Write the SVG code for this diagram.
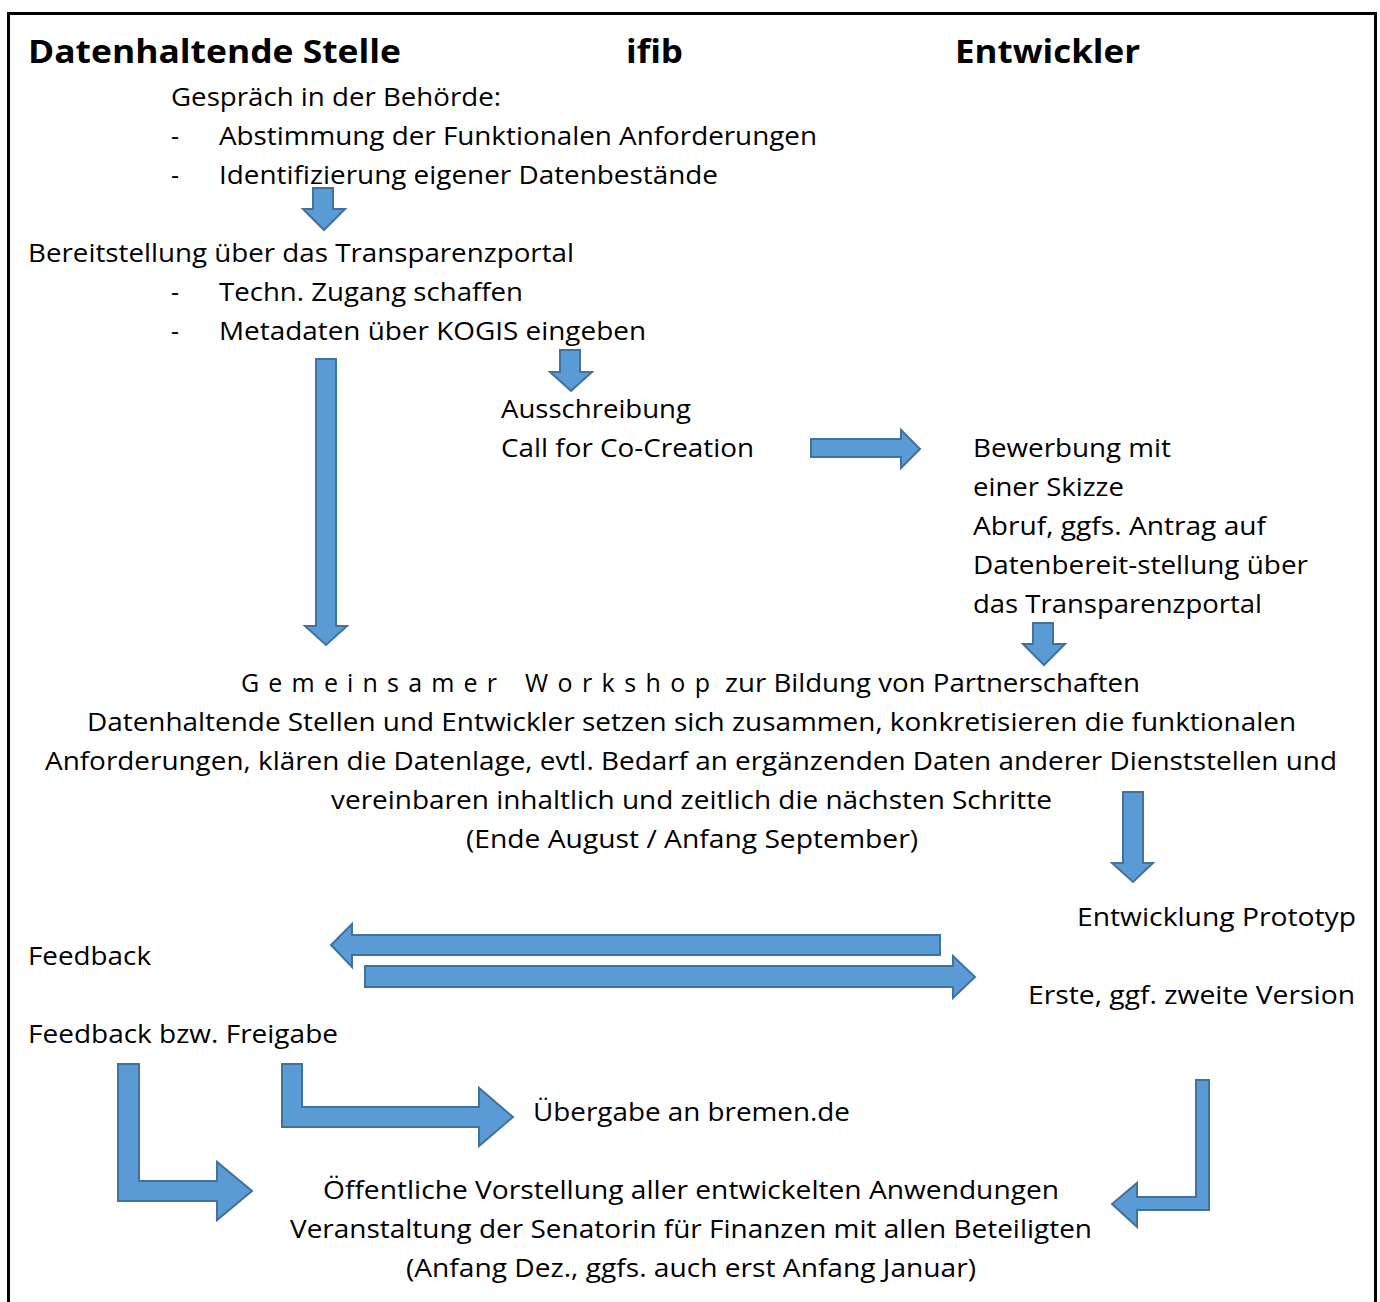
<svg xmlns="http://www.w3.org/2000/svg" width="1380" height="1302" viewBox="0 0 1380 1302">
<style>
.t{font-family:"Open Sans","Noto Sans","DejaVu Sans",sans-serif;font-size:25px;fill:#000}
.h{font-family:"Open Sans","Noto Sans","DejaVu Sans",sans-serif;font-size:33px;font-weight:bold;fill:#000}
.a{fill:#5B9BD5;stroke:#41719C;stroke-width:2;stroke-linejoin:miter}
</style>
<rect x="8.5" y="13.5" width="1367" height="1300" fill="#fff" stroke="#000" stroke-width="3"/>
<g id="headers">
<text class="h" x="28" y="63" textLength="373" lengthAdjust="spacingAndGlyphs">Datenhaltende Stelle</text>
<text class="h" x="626" y="63" textLength="57" lengthAdjust="spacingAndGlyphs">ifib</text>
<text class="h" x="955" y="63" textLength="185" lengthAdjust="spacingAndGlyphs">Entwickler</text>
</g>
<g id="node-gespraech">
<text class="t" x="171" y="106" textLength="330" lengthAdjust="spacingAndGlyphs">Gespräch in der Behörde:</text>
<text class="t" x="171" y="145">-</text>
<text class="t" x="219" y="145" textLength="598" lengthAdjust="spacingAndGlyphs">Abstimmung der Funktionalen Anforderungen</text>
<text class="t" x="171" y="184">-</text>
<text class="t" x="219" y="184" textLength="499" lengthAdjust="spacingAndGlyphs">Identifizierung eigener Datenbestände</text>
</g>
<g id="node-bereitstellung">
<text class="t" x="28" y="262" textLength="546" lengthAdjust="spacingAndGlyphs">Bereitstellung über das Transparenzportal</text>
<text class="t" x="171" y="301">-</text>
<text class="t" x="219" y="301" textLength="304" lengthAdjust="spacingAndGlyphs">Techn. Zugang schaffen</text>
<text class="t" x="171" y="340">-</text>
<text class="t" x="219" y="340" textLength="427" lengthAdjust="spacingAndGlyphs">Metadaten über KOGIS eingeben</text>
</g>
<g id="node-ausschreibung">
<text class="t" x="501" y="418" textLength="190" lengthAdjust="spacingAndGlyphs">Ausschreibung</text>
<text class="t" x="501" y="457" textLength="253" lengthAdjust="spacingAndGlyphs">Call for Co-Creation</text>
</g>
<g id="node-bewerbung">
<text class="t" x="973" y="457" textLength="198" lengthAdjust="spacingAndGlyphs">Bewerbung mit</text>
<text class="t" x="973" y="496" textLength="151" lengthAdjust="spacingAndGlyphs">einer Skizze</text>
<text class="t" x="973" y="535" textLength="293" lengthAdjust="spacingAndGlyphs">Abruf, ggfs. Antrag auf</text>
<text class="t" x="973" y="574" textLength="335" lengthAdjust="spacingAndGlyphs">Datenbereit-stellung über</text>
<text class="t" x="973" y="613" textLength="289" lengthAdjust="spacingAndGlyphs">das Transparenzportal</text>
</g>
<g id="node-workshop">
<text class="t" x="241" y="692" textLength="256" lengthAdjust="spacing">Gemeinsamer</text>
<text class="t" x="525" y="692" textLength="185" lengthAdjust="spacing">Workshop</text>
<text class="t" x="725" y="692" textLength="415" lengthAdjust="spacingAndGlyphs">zur Bildung von Partnerschaften</text>
<text class="t" x="87" y="731" textLength="1209" lengthAdjust="spacingAndGlyphs">Datenhaltende Stellen und Entwickler setzen sich zusammen, konkretisieren die funktionalen</text>
<text class="t" x="45" y="770" textLength="1292" lengthAdjust="spacingAndGlyphs">Anforderungen, klären die Datenlage, evtl. Bedarf an ergänzenden Daten anderer Dienststellen und</text>
<text class="t" x="331" y="809" textLength="721" lengthAdjust="spacingAndGlyphs">vereinbaren inhaltlich und zeitlich die nächsten Schritte</text>
<text class="t" x="466" y="848" textLength="452" lengthAdjust="spacingAndGlyphs">(Ende August / Anfang September)</text>
</g>
<g id="node-prototyp">
<text class="t" x="1077" y="926" textLength="279" lengthAdjust="spacingAndGlyphs">Entwicklung Prototyp</text>
</g>
<g id="node-feedback">
<text class="t" x="28" y="965" textLength="123" lengthAdjust="spacingAndGlyphs">Feedback</text>
</g>
<g id="node-version">
<text class="t" x="1028" y="1004" textLength="327" lengthAdjust="spacingAndGlyphs">Erste, ggf. zweite Version</text>
</g>
<g id="node-freigabe">
<text class="t" x="28" y="1043" textLength="310" lengthAdjust="spacingAndGlyphs">Feedback bzw. Freigabe</text>
</g>
<g id="node-uebergabe">
<text class="t" x="533" y="1121" textLength="317" lengthAdjust="spacingAndGlyphs">Übergabe an bremen.de</text>
</g>
<g id="node-vorstellung">
<text class="t" x="323" y="1199" textLength="736" lengthAdjust="spacingAndGlyphs">Öffentliche Vorstellung aller entwickelten Anwendungen</text>
<text class="t" x="290" y="1238" textLength="802" lengthAdjust="spacingAndGlyphs">Veranstaltung der Senatorin für Finanzen mit allen Beteiligten</text>
<text class="t" x="406" y="1277" textLength="570" lengthAdjust="spacingAndGlyphs">(Anfang Dez., ggfs. auch erst Anfang Januar)</text>
</g>
<g id="connectors">
<polygon class="a" points="313,188 333,188 333,209 345,209 324,230 303,209 313,209"/>
<polygon class="a" points="316,359 336,359 336,626 347,626 326,645 305,626 316,626"/>
<polygon class="a" points="560,350 580,350 580,372 592,372 571,391 550,372 560,372"/>
<polygon class="a" points="811,439 901,439 901,430 920,449 901,468 901,457 811,457"/>
<polygon class="a" points="1033,623 1053,623 1053,644 1065,644 1044,665 1023,644 1033,644"/>
<polygon class="a" points="1123,792 1143,792 1143,863 1153,863 1133,882 1112,863 1123,863"/>
<polygon class="a" points="940,935 940,955 352,955 352,967 331,945 352,924 352,935"/>
<polygon class="a" points="365,966 953,966 953,956 975,977 953,998 953,987 365,987"/>
<polygon class="a" points="118,1064 139,1064 139,1181 217,1181 217,1162 252,1191 217,1220 217,1201 118,1201"/>
<polygon class="a" points="282,1064 302,1064 302,1107 479,1107 479,1088 513,1117 479,1146 479,1127 282,1127"/>
<polygon class="a" points="1196,1080 1209,1080 1209,1210 1137,1210 1137,1227 1112,1204 1137,1183 1137,1197 1196,1197"/>
</g>
</svg>
